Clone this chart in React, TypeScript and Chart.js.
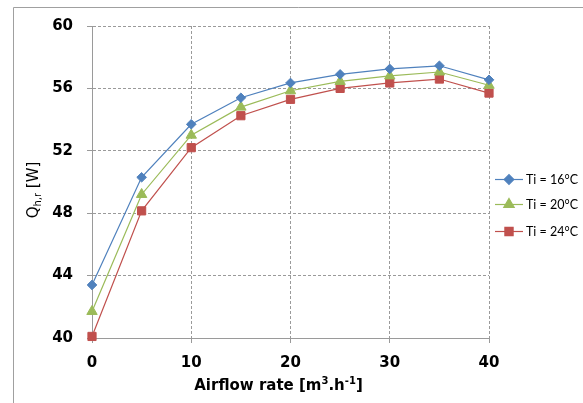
import React, { useEffect, useRef } from 'react';
import { Chart, registerables } from 'chart.js';
import { drawPoint } from 'chart.js/helpers';

Chart.register(...registerables);

const airflow = [0, 5, 10, 15, 20, 25, 30, 35, 40];
const ti16 = [43.4, 50.3, 53.7, 55.4, 56.35, 56.9, 57.25, 57.45, 56.55];
const ti20 = [41.7, 49.2, 53.0, 54.8, 55.85, 56.45, 56.8, 57.05, 56.2];
const ti24 = [40.1, 48.15, 52.2, 54.25, 55.3, 56.0, 56.35, 56.6, 55.7];
const seriesLabels = ['Ti = 16°C', 'Ti = 20°C', 'Ti = 24°C'];
const xTicks = [0, 10, 20, 30, 40];
const yTicks = [40, 44, 48, 52, 56, 60];

const colors = ['#4F81BD', '#9BBB59', '#C0504D'];
const styles = ['rectRot', 'triangle', 'rect'];
const radii = [4.8, 6, 5.8];

const TICK_FONT = { family: "'DejaVu Sans', sans-serif", size: 15, weight: 'bold' as const };
const GRID = '#9a9a9a';

const decorPlugin = {
  id: 'decor',
  beforeDraw(chart: any) {
    const ctx = chart.ctx;
    ctx.save();
    ctx.fillStyle = '#ffffff';
    ctx.fillRect(0, 0, chart.width, chart.height);
    ctx.strokeStyle = '#a0a0a0';
    ctx.lineWidth = 1;
    ctx.beginPath();
    ctx.moveTo(13.5, chart.height);
    ctx.lineTo(13.5, 7.5);
    ctx.lineTo(chart.width, 7.5);
    ctx.stroke();
    ctx.restore();
  },
  afterDraw(chart: any) {
    const ctx = chart.ctx;
    const area = chart.chartArea;
    ctx.save();
    ctx.fillStyle = '#000';
    ctx.textBaseline = 'alphabetic';

    // Y axis title: Q_{h,r} [W]
    {
      const big = "15px 'DejaVu Sans', sans-serif";
      const small = "10px 'DejaVu Sans', sans-serif";
      ctx.font = big;
      const wQ = ctx.measureText('Q').width;
      const wW = ctx.measureText(' [W]').width;
      ctx.font = small;
      const wS = ctx.measureText('h,r').width;
      const total = wQ + wS + wW;
      const cx = 33;
      const cy = (area.top + area.bottom) / 2 + 8;
      ctx.translate(cx, cy);
      ctx.rotate(-Math.PI / 2);
      let x = -total / 2;
      const base = 5;
      ctx.font = big;
      ctx.fillText('Q', x, base);
      x += wQ;
      ctx.font = small;
      ctx.fillText('h,r', x, base + 3);
      x += wS;
      ctx.font = big;
      ctx.fillText(' [W]', x, base);
      ctx.setTransform(1, 0, 0, 1, 0, 0);
    }

    // X axis title: Airflow rate [m3.h-1]
    {
      const big = "bold 15px 'DejaVu Sans', sans-serif";
      const small = "bold 10px 'DejaVu Sans', sans-serif";
      const parts: [string, boolean][] = [
        ['Airflow rate [m', false],
        ['3', true],
        ['.h', false],
        ['-1', true],
        [']', false],
      ];
      let total = 0;
      const widths = parts.map(([t, sup]) => {
        ctx.font = sup ? small : big;
        const w = ctx.measureText(t).width;
        total += w;
        return w;
      });
      const cx = (area.left + area.right) / 2 - 12;
      const baseY = area.bottom + 52;
      let x = cx - total / 2;
      parts.forEach(([t, sup], i) => {
        ctx.font = sup ? small : big;
        ctx.fillText(t, x, sup ? baseY - 6 : baseY);
        x += widths[i];
      });
    }

    // Legend
    {
      const x0 = area.right + 6;
      const lineLen = 28;
      const ys = [179, 204, 231];
      chart.data.datasets.forEach((ds: any, i: number) => {
        const y = ys[i];
        ctx.strokeStyle = ds.borderColor;
        ctx.lineWidth = 1.2;
        ctx.beginPath();
        ctx.moveTo(x0, y + 0.5);
        ctx.lineTo(x0 + lineLen, y + 0.5);
        ctx.stroke();
        ctx.fillStyle = ds.backgroundColor;
        ctx.strokeStyle = ds.borderColor;
        drawPoint(ctx, {
          pointStyle: ds.pointStyle,
          radius: ds.pointRadius,
          rotation: 0,
          borderWidth: 1,
        } as any, x0 + lineLen / 2, y + 0.5);
        ctx.fillStyle = '#000';
        ctx.font = "12.5px Lato, sans-serif";
        ctx.textBaseline = 'middle';
        ctx.fillText(ds.label, x0 + lineLen + 3, y + 1);
      });
    }
    ctx.restore();
  },
};

export default function App() {
  const ref = useRef<HTMLCanvasElement>(null);
  useEffect(() => {
    const series = [ti16, ti20, ti24];
    const chart = new Chart(ref.current as HTMLCanvasElement, {
      type: 'line',
      data: {
        datasets: series.map((vals, i) => ({
          label: seriesLabels[i],
          data: airflow.map((x, j) => ({ x, y: vals[j] })),
          borderColor: colors[i],
          backgroundColor: colors[i],
          borderWidth: 1.2,
          pointStyle: styles[i] as any,
          pointRadius: radii[i],
          pointBorderWidth: 1,
          tension: 0,
          fill: false,
          clip: false as any,
        })),
      },
      options: {
        responsive: false,
        animation: false,
        devicePixelRatio: 1,
        layout: { padding: { left: 0, top: 26, right: 94, bottom: 0 } },
        plugins: {
          legend: { display: false },
          tooltip: { enabled: false },
          title: { display: false },
        },
        scales: {
          x: {
            type: 'linear',
            min: 0,
            max: 40,
            afterBuildTicks: (s: any) => {
              s.ticks = xTicks.map((v) => ({ value: v }));
            },
            afterFit: (s: any) => {
              s.height = 65;
            },
            ticks: { font: TICK_FONT, color: '#000', padding: 11, maxRotation: 0 },
            grid: { color: GRID, tickColor: GRID, tickLength: 5, lineWidth: 1 },
            border: { display: true, color: GRID, width: 1, dash: [3, 2] },
          },
          y: {
            type: 'linear',
            min: 40,
            max: 60,
            afterBuildTicks: (s: any) => {
              s.ticks = yTicks.map((v) => ({ value: v }));
            },
            afterFit: (s: any) => {
              s.width = 92;
            },
            ticks: { font: TICK_FONT, color: '#000', padding: 14 },
            grid: { color: GRID, tickColor: GRID, tickLength: 5, lineWidth: 1 },
            border: { display: true, color: GRID, width: 1, dash: [3, 2] },
          },
        },
      },
      plugins: [decorPlugin],
    });
    return () => chart.destroy();
  }, []);
  return (
    <div style={{ position: 'fixed', left: 0, top: 0, width: 583, height: 403, background: '#fff' }}>
      <canvas ref={ref} width={583} height={403} style={{ width: 583, height: 403, display: 'block' }} />
    </div>
  );
}
